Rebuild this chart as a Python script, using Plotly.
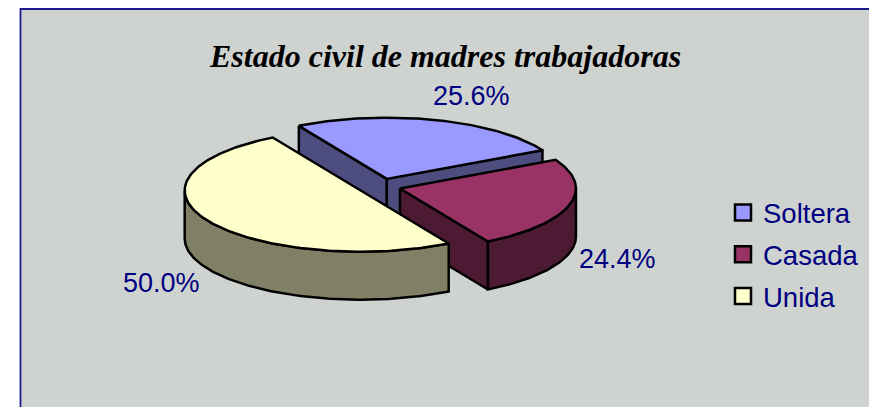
import math
import plotly.graph_objects as go

categories = ["Soltera", "Casada", "Unida"]
values = [25.6, 24.4, 50.0]
title_text = "Estado civil de madres trabajadoras"

top_colors = ["#9999ff", "#993366", "#ffffcc"]
side_colors = ["#4d4d80", "#4d1a33", "#808066"]
pulls = [0.13, 0.115, 0.13]
label_pos = [(471, 96), (617, 259), (161, 283)]

W, H = 869, 407
CX, CY, RX, RY, DEPTH = 380.5, 186.5, 176, 61.2, 48
FIRST_ANGLE = 330
NAVY = "#000080"
BG = "#cfd3d0"


def pt(cx, cy, deg, dz=0):
    r = math.radians(deg)
    return cx + RX * math.sin(r), cy - RY * math.cos(r) + dz


def arc(cx, cy, a, b, dz=0):
    n = max(2, int(abs(b - a)) + 1)
    return [pt(cx, cy, a + (b - a) * i / (n - 1), dz) for i in range(n)]


fig = go.Figure()


def poly(points, color):
    xs = [p[0] for p in points] + [points[0][0]]
    ys = [p[1] for p in points] + [points[0][1]]
    fig.add_trace(go.Scatter(
        x=xs, y=ys, mode="lines", fill="toself", fillcolor=color,
        line=dict(color="black", width=2.5), hoverinfo="skip", showlegend=False,
    ))


total = sum(values)
start = FIRST_ANGLE
for val, top, side, pull in zip(values, top_colors, side_colors, pulls):
    sweep = 360 * val / total
    end = start + sweep
    mid = start + sweep / 2
    mx, my = pt(0, 0, mid)
    ax, ay = CX + pull * mx, CY + pull * my
    apex_t, apex_b = (ax, ay), (ax, ay + DEPTH)
    # cut faces facing the viewer
    if math.sin(math.radians(start)) < 0:
        poly([pt(ax, ay, start), apex_t, apex_b, pt(ax, ay, start, DEPTH)], side)
    if math.sin(math.radians(end)) > 0:
        poly([apex_t, pt(ax, ay, end), pt(ax, ay, end, DEPTH), apex_b], side)
    # outer wall on the front half of the ellipse
    lo, hi = max(start, 90), min(end, 270)
    if hi > lo:
        poly(arc(ax, ay, lo, hi) + arc(ax, ay, hi, lo, DEPTH), side)
    # top face
    poly([apex_t] + arc(ax, ay, start, end), top)
    start = end % 360

for name, color in zip(categories, top_colors):
    fig.add_trace(go.Scatter(
        x=[None], y=[None], mode="markers", name=name, legendgroup=name,
        marker=dict(symbol="square", size=16, color=color, line=dict(color="black", width=2.5)),
    ))

for val, (lx, ly) in zip(values, label_pos):
    fig.add_annotation(x=lx, y=ly, xref="x", yref="y", text=f"{val:.1f}%", showarrow=False,
                       font=dict(family="Liberation Sans, Arial", size=27, color=NAVY))

fig.add_annotation(x=445, y=56, xref="x", yref="y", text=f"<b><i>{title_text}</i></b>", showarrow=False,
                   font=dict(family="Liberation Serif, Times New Roman", size=32, color="black"))

fig.update_layout(
    width=W, height=H, margin=dict(l=0, r=0, t=0, b=0),
    paper_bgcolor="white", plot_bgcolor="rgba(0,0,0,0)",
    xaxis=dict(range=[0, W], visible=False, fixedrange=True),
    yaxis=dict(range=[H, 0], visible=False, fixedrange=True),
    shapes=[dict(type="rect", xref="x", yref="y", layer="below", x0=20.5, y0=9, x1=W + 10, y1=H + 10,
                 fillcolor=BG, line=dict(color="#1a1a8c", width=1.8))],
    legend=dict(x=723 / W, y=1 - 188 / H, xanchor="left", yanchor="top",
                bgcolor="rgba(0,0,0,0)", tracegroupgap=3,
                font=dict(family="Liberation Sans, Arial", size=27.5, color=NAVY)),
)

fig.write_html("out.html", config=dict(displayModeBar=False),
               post_script="document.body.style.margin='0';document.body.style.overflow='hidden';")
